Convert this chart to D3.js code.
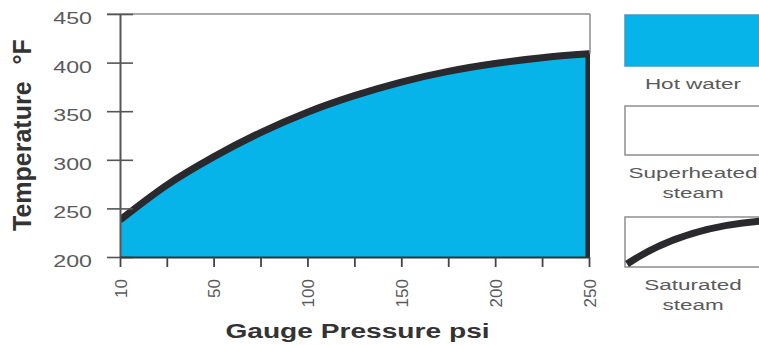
<!DOCTYPE html>
<html>
<head>
<meta charset="utf-8">
<script src="https://cdn.jsdelivr.net/npm/d3@7"></script>
<style>
  body { margin: 0; background: #fff; }
  svg { display: block; }
  text { font-family: "Liberation Sans", Arial, Helvetica, sans-serif; }
</style>
</head>
<body>
<svg id="chart" width="759" height="345"></svg>
<script>
// Saturated steam: temperature (°F) against gauge pressure (psi)
const pressure    = [10, 30, 50, 75, 100, 125, 150, 175, 200, 225, 250];
const temperature = [238, 274, 303, 328, 349, 366, 380, 391, 399, 405, 409];

const xTickValues = [10, 30, 50, 75, 100, 125, 150, 175, 200, 225, 250];
const xTickLabels = ["10", "", "50", "", "100", "", "150", "", "200", "", "250"];
const yTickValues = [200, 250, 300, 350, 400, 450];

const legendItems = [
  { kind: "water", lines: ["Hot water"] },
  { kind: "superheated", lines: ["Superheated", "steam"] },
  { kind: "saturated", lines: ["Saturated", "steam"] }
];

const WATER = "#06b4e9";
const CURVE = "#2a2a2e";
const FRAME = "#8e8e8e";
const LABEL = "#5a5a5a";

const svg = d3.select("#chart");

// The pressure axis is compressed below 50 psi, so the scale is piecewise.
const x = d3.scaleLinear().domain([10, 50, 250]).range([120, 213.6, 589]);
const y = d3.scaleLinear().domain([200, 450]).range([257, 14]);

const pts = pressure.map((p, i) => ({ p, t: temperature[i] }));

svg.append("defs").append("clipPath").attr("id", "plot-clip")
  .append("rect").attr("x", x(10)).attr("y", 0)
  .attr("width", 590 - x(10)).attr("height", y(200));

const plot = svg.append("g").attr("clip-path", "url(#plot-clip)");

// hot water region under the saturation curve
plot.append("path")
  .datum(pts)
  .attr("fill", WATER)
  .attr("d", d3.area()
    .x(d => x(d.p))
    .y0(y(200))
    .y1(d => y(d.t))
    .curve(d3.curveMonotoneX));

// saturation curve, closed down to the axis at the maximum pressure
const curvePath = d3.line()
  .x(d => x(d.p))
  .y(d => y(d.t))
  .curve(d3.curveMonotoneX)(pts);

plot.append("path")
  .attr("fill", "none")
  .attr("stroke", CURVE)
  .attr("stroke-width", 7)
  .attr("stroke-linejoin", "miter")
  .attr("d", curvePath + `V${y(200)}`);

// frame: top and right edges
svg.append("line")
  .attr("x1", 107).attr("x2", 590)
  .attr("y1", y(450)).attr("y2", y(450))
  .attr("stroke", FRAME).attr("stroke-width", 1.5);
svg.append("line")
  .attr("x1", 590).attr("x2", 590)
  .attr("y1", y(450)).attr("y2", y(409))
  .attr("stroke", FRAME).attr("stroke-width", 1.5);

// y axis
const yAxis = svg.append("g")
  .attr("transform", `translate(${x(10)},0)`)
  .call(d3.axisLeft(y).tickValues(yTickValues).tickSizeInner(13).tickSizeOuter(0));
yAxis.select(".domain").attr("stroke", "#555").attr("stroke-width", 2);
yAxis.selectAll(".tick line").attr("x1", 13).attr("stroke", "#555").attr("stroke-width", 1.6);
yAxis.selectAll(".tick text")
  .attr("x", 0).attr("dy", null)
  .attr("transform", "translate(-28,9.5) scale(1.45,1)")
  .attr("font-size", 16)
  .attr("fill", LABEL);

// x axis
const xAxis = svg.append("g")
  .attr("transform", `translate(0,${y(200)})`)
  .call(d3.axisBottom(x).tickValues(xTickValues)
    .tickFormat((d, i) => xTickLabels[i])
    .tickSizeInner(10).tickSizeOuter(0));
xAxis.select(".domain").attr("stroke", "#333").attr("stroke-width", 1.8);
xAxis.selectAll(".tick line").attr("stroke", "#444").attr("stroke-width", 1.8);
xAxis.selectAll(".tick text")
  .attr("transform", "rotate(-90)")
  .attr("x", -22).attr("y", 0).attr("dy", "0.37em")
  .attr("text-anchor", "end")
  .attr("font-size", 17)
  .attr("fill", LABEL);

// axis titles
svg.append("text")
  .attr("transform", "translate(357.5,338) scale(1.34,1)")
  .attr("text-anchor", "middle")
  .attr("font-size", 21)
  .attr("font-weight", "bold")
  .attr("fill", "#333")
  .text("Gauge Pressure psi");

const yTitle = svg.append("text")
  .attr("transform", "translate(31,231) rotate(-90)")
  .attr("text-anchor", "start")
  .attr("font-size", 25)
  .attr("font-weight", "bold")
  .attr("fill", "#333");
yTitle.append("tspan").text("Temperature");
yTitle.append("tspan").attr("dx", 17).text("°F");

// legend
const legend = svg.append("g");
const boxTop = [15, 106, 217];
const boxH = [51, 49, 50];
const labelBase = [[89], [178, 198], [290, 310]];

legendItems.forEach((item, i) => {
  const g = legend.append("g");
  g.append("rect")
    .attr("x", 625).attr("y", boxTop[i])
    .attr("width", 150).attr("height", boxH[i])
    .attr("fill", item.kind === "water" ? WATER : "#fff")
    .attr("stroke", item.kind === "water" ? "#3d9cc4" : FRAME)
    .attr("stroke-width", 1.5);
  if (item.kind === "saturated") {
    const p = d3.path();
    p.moveTo(627, boxTop[i] + boxH[i] - 3);
    p.quadraticCurveTo(682, boxTop[i] + 10, 762, boxTop[i] + 4);
    g.append("path")
      .attr("d", p.toString())
      .attr("fill", "none")
      .attr("stroke", CURVE)
      .attr("stroke-width", 7);
  }
  item.lines.forEach((line, j) => {
    g.append("text")
      .attr("transform", `translate(693,${labelBase[i][j]}) scale(1.5,1)`)
      .attr("text-anchor", "middle")
      .attr("font-size", 15)
      .attr("fill", LABEL)
      .text(line);
  });
});
</script>
</body>
</html>
